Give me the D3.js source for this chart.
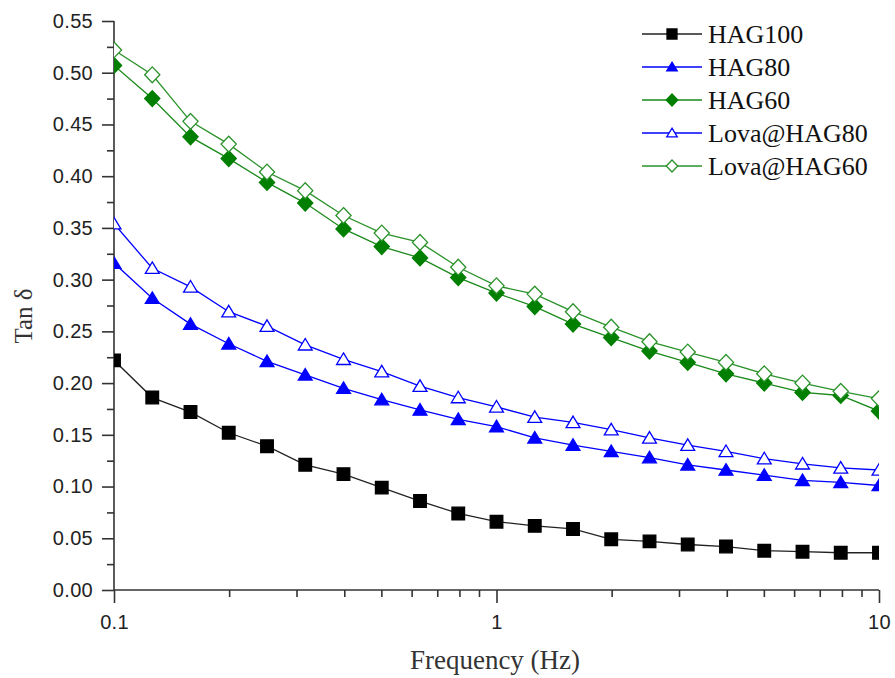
<!DOCTYPE html>
<html>
<head>
<meta charset="utf-8">
<script src="https://cdn.jsdelivr.net/npm/d3@7"></script>
<style>
  body { margin: 0; background: #fff; }
  svg { display: block; }
  .tick text { font-family: "Liberation Sans", Arial, sans-serif; font-size: 20px; fill: #222; letter-spacing: 0.3px; }
  .title { font-family: "Liberation Serif", "Times New Roman", serif; fill: #333; }
</style>
</head>
<body>
<div id="chart"></div>
<script>
var freq = [0.1, 0.1259, 0.1585, 0.1995, 0.2512, 0.3162, 0.3981, 0.5012, 0.631, 0.7943,
            1, 1.259, 1.585, 1.995, 2.512, 3.162, 3.981, 5.012, 6.31, 7.943, 10];

var hag100 = [0.222, 0.186, 0.172, 0.152, 0.139, 0.121, 0.112, 0.099, 0.086, 0.074,
              0.066, 0.062, 0.059, 0.049, 0.047, 0.044, 0.042, 0.038, 0.037, 0.036, 0.036];
var hag80 = [0.316, 0.282, 0.257, 0.238, 0.221, 0.208, 0.195, 0.184, 0.174, 0.165,
             0.158, 0.147, 0.140, 0.134, 0.128, 0.121, 0.116, 0.111, 0.106, 0.104, 0.101];
var hag60 = [0.507, 0.475, 0.438, 0.417, 0.394, 0.374, 0.349, 0.332, 0.321, 0.302,
             0.287, 0.274, 0.257, 0.244, 0.231, 0.220, 0.209, 0.200, 0.191, 0.188, 0.173];
var lovaHag80 = [0.354, 0.311, 0.293, 0.269, 0.255, 0.237, 0.223, 0.211, 0.197, 0.186,
                 0.177, 0.167, 0.162, 0.155, 0.147, 0.140, 0.134, 0.127, 0.122, 0.118, 0.116];
var lovaHag60 = [0.522, 0.498, 0.453, 0.431, 0.404, 0.386, 0.362, 0.345, 0.336, 0.312,
                 0.294, 0.286, 0.269, 0.254, 0.240, 0.230, 0.220, 0.209, 0.200, 0.192, 0.185];

var yTicks = [0, 0.05, 0.10, 0.15, 0.20, 0.25, 0.30, 0.35, 0.40, 0.45, 0.50, 0.55];
var xTicks = [0.1, 1, 10];
var names = ['HAG100', 'HAG80', 'HAG60', 'Lova@HAG80', 'Lova@HAG60'];

(function() {
  var series = [
    {name: names[0], values: hag100, color: '#000', fill: '#000', shape: 'square', lineColor: '#222'},
    {name: names[1], values: hag80, color: '#0000ff', fill: '#0000ff', shape: 'triangle', lineColor: '#0000ff'},
    {name: names[2], values: hag60, color: '#007f00', fill: '#007f00', shape: 'diamond', lineColor: '#1a8a1a'},
    {name: names[3], values: lovaHag80, color: '#0000ff', fill: '#fff', shape: 'triangle', lineColor: '#0000ff'},
    {name: names[4], values: lovaHag60, color: '#2a922a', fill: '#fff', shape: 'diamond', lineColor: '#2a922a'}
  ];

  var W = 895, H = 678;
  var mLeft = 114, mRight = 879, mTop = 21, mBottom = 590;

  function markerPath(shape, s) {
    if (shape === 'square') {
      return 'M' + (-s) + ',' + (-s) + 'H' + s + 'V' + s + 'H' + (-s) + 'Z';
    }
    if (shape === 'triangle') {
      var h = s * 1.75;
      return 'M0,' + (-h * 0.55) + 'L' + (s * 1.05) + ',' + (h * 0.45) + 'L' + (-s * 1.05) + ',' + (h * 0.45) + 'Z';
    }
    return 'M0,' + (-s * 1.2) + 'L' + (s * 1.15) + ',0L0,' + (s * 1.2) + 'L' + (-s * 1.15) + ',0Z';
  }

  var svg = d3.select('#chart').append('svg').attr('width', W).attr('height', H);

  var x = d3.scaleLog().domain([0.1, 10]).range([mLeft, mRight]);
  var y = d3.scaleLinear().domain([0, 0.55]).range([mBottom, mTop]);

  svg.append('clipPath').attr('id', 'clip')
    .append('rect').attr('x', mLeft).attr('y', 0).attr('width', mRight - mLeft).attr('height', H);

  // minor ticks
  var minorX = [];
  [0.1, 1].forEach(function(d) {
    for (var i = 2; i <= 9; i++) minorX.push(d * i);
  });
  var minorY = d3.range(0, 11).map(function(i) { return 0.025 + i * 0.05; });

  var xAxis = svg.append('g').attr('transform', 'translate(0,' + mBottom + ')')
    .call(d3.axisBottom(x).tickValues(xTicks).tickSize(13).tickPadding(9)
      .tickFormat(function(d) { return d === 0.1 ? '0.1' : String(d); }));
  svg.append('g').attr('class', 'minor').attr('transform', 'translate(0,' + mBottom + ')')
    .call(d3.axisBottom(x).tickValues(minorX).tickSize(7).tickFormat(''));

  var yAxis = svg.append('g').attr('transform', 'translate(' + mLeft + ',0)')
    .call(d3.axisLeft(y).tickValues(yTicks).tickSize(12).tickPadding(9)
      .tickFormat(d3.format('.2f')));
  svg.append('g').attr('class', 'minor').attr('transform', 'translate(' + mLeft + ',0)')
    .call(d3.axisLeft(y).tickValues(minorY).tickSize(7).tickFormat(''));

  svg.selectAll('.minor .domain').remove();
  svg.selectAll('.domain, .tick line').attr('stroke', '#333').attr('stroke-width', 1.6);
  xAxis.select('.domain').attr('d', 'M' + mLeft + ',0H' + mRight);
  yAxis.select('.domain').attr('d', 'M0,' + mBottom + 'V' + mTop);
  xAxis.selectAll('.tick text').attr('dy', '0.85em');

  // data
  var plot = svg.append('g').attr('clip-path', 'url(#clip)');
  var line = d3.line()
    .x(function(d, i) { return x(freq[i]); })
    .y(function(d) { return y(d); });

  series.forEach(function(s) {
    plot.append('path').datum(s.values)
      .attr('d', line).attr('fill', 'none')
      .attr('stroke', s.lineColor).attr('stroke-width', 1.3);
  });
  series.forEach(function(s) {
    var size = s.shape === 'square' ? 6.3 : 6.6;
    plot.selectAll(null).data(s.values).enter().append('path')
      .attr('transform', function(d, i) { return 'translate(' + x(freq[i]) + ',' + y(d) + ')'; })
      .attr('d', markerPath(s.shape, size))
      .attr('fill', s.fill).attr('stroke', s.color).attr('stroke-width', 1.3);
  });

  // legend
  var legend = svg.append('g').attr('transform', 'translate(642,34)');
  series.forEach(function(s, i) {
    var g = legend.append('g').attr('transform', 'translate(0,' + (i * 33) + ')');
    g.append('line').attr('x1', 0).attr('x2', 60).attr('y1', 0).attr('y2', 0)
      .attr('stroke', s.lineColor).attr('stroke-width', 1.3);
    g.append('path').attr('transform', 'translate(30,0)')
      .attr('d', markerPath(s.shape, 5))
      .attr('fill', s.fill).attr('stroke', s.color).attr('stroke-width', 1.3);
    g.append('text').attr('class', 'title').attr('x', 66).attr('y', 9)
      .style('font-size', '26px').style('fill', '#111').text(s.name);
  });

  // titles
  svg.append('text').attr('class', 'title')
    .attr('transform', 'translate(32,316) rotate(-90)')
    .attr('text-anchor', 'middle').style('font-size', '25px')
    .text('Tan δ');
  svg.append('text').attr('class', 'title')
    .attr('x', 495).attr('y', 669).attr('text-anchor', 'middle')
    .style('font-size', '27px')
    .text('Frequency (Hz)');
})();
</script>
</body>
</html>
